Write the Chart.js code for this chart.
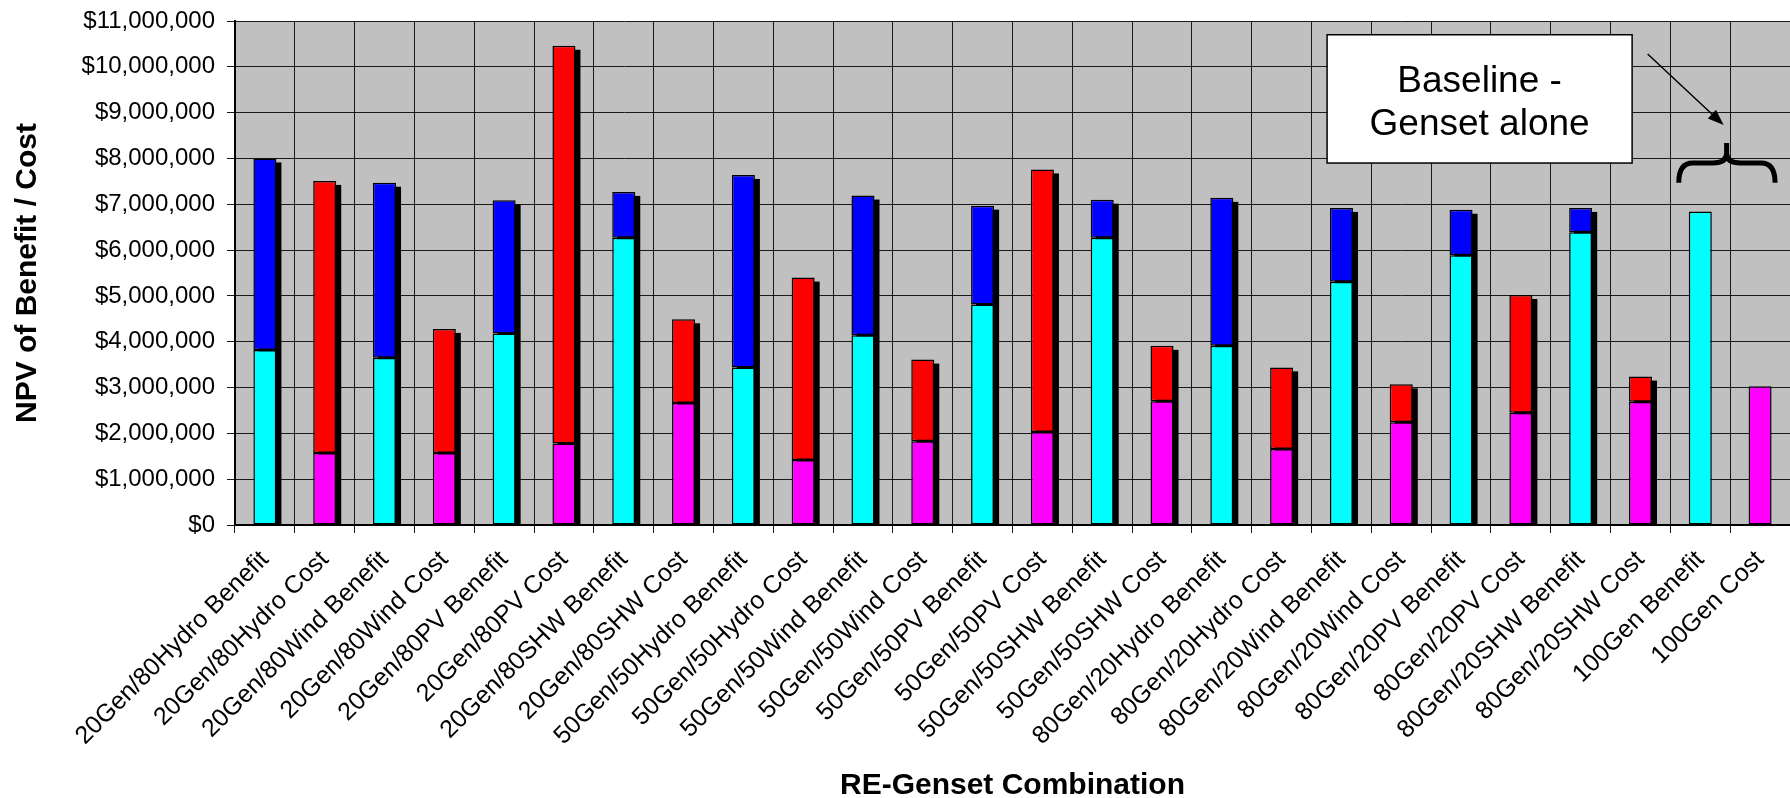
<!DOCTYPE html>
<html>
<head>
<meta charset="utf-8">
<script src="https://cdn.jsdelivr.net/npm/chart.js@4.4.1/dist/chart.umd.min.js"></script>
<style>
html,body{margin:0;padding:0;background:#fff;}
#wrap{width:1790px;height:798px;}
</style>
</head>
<body>
<div id="wrap"><canvas id="c" width="1790" height="798"></canvas></div>
<script>
// ---- data ----
const categories = [
  "20Gen/80Hydro Benefit","20Gen/80Hydro Cost","20Gen/80Wind Benefit","20Gen/80Wind Cost",
  "20Gen/80PV Benefit","20Gen/80PV Cost","20Gen/80SHW Benefit","20Gen/80SHW Cost",
  "50Gen/50Hydro Benefit","50Gen/50Hydro Cost","50Gen/50Wind Benefit","50Gen/50Wind Cost",
  "50Gen/50PV Benefit","50Gen/50PV Cost","50Gen/50SHW Benefit","50Gen/50SHW Cost",
  "80Gen/20Hydro Benefit","80Gen/20Hydro Cost","80Gen/20Wind Benefit","80Gen/20Wind Cost",
  "80Gen/20PV Benefit","80Gen/20PV Cost","80Gen/20SHW Benefit","80Gen/20SHW Cost",
  "100Gen Benefit","100Gen Cost"
];
// cyan (lower part of benefit bars)
const benefitBase = [3820000,null,3650000,null,4180000,null,6270000,null,
                     3440000,null,4140000,null,4810000,null,6270000,null,
                     3910000,null,5310000,null,5890000,null,6390000,null,
                     6840000,null];
// blue (upper part of benefit bars)
const benefitAdded = [4180000,null,3820000,null,2910000,null,1000000,null,
                      4200000,null,3050000,null,2160000,null,830000,null,
                      3230000,null,1610000,null,990000,null,530000,null,
                      null,null];
// magenta (lower part of cost bars)
const costBase = [null,1570000,null,1570000,null,1780000,null,2660000,
                  null,1420000,null,1830000,null,2030000,null,2700000,
                  null,1660000,null,2240000,null,2450000,null,2690000,
                  null,3030000];
// red (upper part of cost bars)
const costAdded = [null,5940000,null,2710000,null,8680000,null,1830000,
                   null,3980000,null,1780000,null,5730000,null,1210000,
                   null,1780000,null,830000,null,2570000,null,550000,
                   null,null];
const yMin = 0, yMax = 11000000, yStep = 1000000;
const yTitle = "NPV of Benefit / Cost";
const xTitle = "RE-Genset Combination";
const noteLines = ["Baseline -", "Genset alone"];

const FONT = "'Liberation Sans', Arial, Helvetica, sans-serif";

const bgPlugin = {
  id: 'bg',
  beforeDraw(chart) {
    const {ctx, chartArea: a} = chart;
    ctx.save();
    ctx.fillStyle = '#ffffff';
    ctx.fillRect(0, 0, chart.width, chart.height);
    ctx.fillStyle = '#C0C0C0';
    ctx.fillRect(a.left, a.top, a.right - a.left, a.bottom - a.top);
    ctx.restore();
  }
};

const shadowPlugin = {
  id: 'shadow',
  beforeDatasetsDraw(chart) {
    const {ctx, chartArea: a} = chart;
    ctx.save();
    ctx.beginPath();
    ctx.rect(a.left, a.top, a.right - a.left, a.bottom - a.top);
    ctx.clip();
    ctx.fillStyle = '#000';
    const pairs = [[0, 1], [2, 3]];
    for (let i = 0; i < categories.length; i++) {
      for (const [b, t] of pairs) {
        const bv = chart.data.datasets[b].data[i];
        const tv = chart.data.datasets[t].data[i];
        if (bv != null && tv != null && tv > 0) {
          const be = chart.getDatasetMeta(b).data[i];
          const te = chart.getDatasetMeta(t).data[i];
          const w = be.width;
          ctx.fillRect(be.x - w / 2 + 5, te.y + 4, w, be.base - te.y - 4);
        }
      }
    }
    ctx.restore();
  }
};

const notePlugin = {
  id: 'note',
  afterDatasetsDraw(chart) {
    const {ctx} = chart;
    const x = chart.scales.x, y = chart.scales.y;
    ctx.save();
    // box
    const bl = x.getPixelForValue(17.76), br = x.getPixelForValue(22.86);
    const bt = y.getPixelForValue(10700000), bb = y.getPixelForValue(7900000);
    ctx.fillStyle = '#fff';
    ctx.fillRect(bl, bt, br - bl, bb - bt);
    ctx.lineWidth = 1.5;
    ctx.strokeStyle = '#000';
    ctx.strokeRect(bl, bt, br - bl, bb - bt);
    ctx.fillStyle = '#000';
    ctx.font = "37px " + FONT;
    ctx.textAlign = 'center';
    ctx.textBaseline = 'alphabetic';
    const cx = (bl + br) / 2, h = bb - bt;
    ctx.fillText(noteLines[0], cx, bt + h * 0.445);
    ctx.fillText(noteLines[1], cx, bt + h * 0.785);
    // arrow
    const ax0 = x.getPixelForValue(23.12), ay0 = y.getPixelForValue(10280000);
    const ax1 = x.getPixelForValue(24.39), ay1 = y.getPixelForValue(8730000);
    const ang = Math.atan2(ay1 - ay0, ax1 - ax0);
    const hl = 16, hw = 6;
    ctx.lineWidth = 1.5;
    ctx.beginPath();
    ctx.moveTo(ax0, ay0);
    ctx.lineTo(ax1 - Math.cos(ang) * hl * 0.8, ay1 - Math.sin(ang) * hl * 0.8);
    ctx.stroke();
    ctx.beginPath();
    ctx.moveTo(ax1, ay1);
    ctx.lineTo(ax1 - Math.cos(ang) * hl + Math.sin(ang) * hw, ay1 - Math.sin(ang) * hl - Math.cos(ang) * hw);
    ctx.lineTo(ax1 - Math.cos(ang) * hl - Math.sin(ang) * hw, ay1 - Math.sin(ang) * hl + Math.cos(ang) * hw);
    ctx.closePath();
    ctx.fill();
    // brace
    const x0 = x.getPixelForValue(23.64), x2 = x.getPixelForValue(25.25);
    const xc = x.getPixelForValue(24.44);
    const yb = y.getPixelForValue(7470000), ym = y.getPixelForValue(7900000), yt = y.getPixelForValue(8340000);
    const r = 14;
    ctx.lineWidth = 5;
    ctx.lineCap = 'butt';
    ctx.lineJoin = 'round';
    ctx.beginPath();
    ctx.moveTo(x0, yb);
    ctx.quadraticCurveTo(x0, ym, x0 + r, ym);
    ctx.lineTo(xc - r, ym);
    ctx.quadraticCurveTo(xc, ym, xc, ym - r * 0.7);
    ctx.lineTo(xc, yt);
    ctx.moveTo(xc, ym - r * 0.7);
    ctx.quadraticCurveTo(xc, ym, xc + r, ym);
    ctx.lineTo(x2 - r, ym);
    ctx.quadraticCurveTo(x2, ym, x2, yb);
    ctx.stroke();
    ctx.restore();
  }
};

const titlePlugin = {
  id: 'titles',
  afterDraw(chart) {
    const {ctx, chartArea: a} = chart;
    ctx.save();
    ctx.fillStyle = '#000';
    ctx.font = "bold 30px " + FONT;
    ctx.textAlign = 'center';
    ctx.textBaseline = 'alphabetic';
    ctx.fillText(xTitle, (a.left + a.right) / 2, 794);
    ctx.translate(36, (a.top + a.bottom) / 2);
    ctx.rotate(-Math.PI / 2);
    ctx.fillText(yTitle, 0, 0);
    ctx.restore();
  }
};

const common = {borderColor: '#000', borderWidth: 1.5, borderSkipped: false, stack: 's'};

new Chart(document.getElementById('c'), {
  type: 'bar',
  data: {
    labels: categories,
    datasets: [
      Object.assign({label: 'Benefit (base)', data: benefitBase, backgroundColor: '#00FFFF'}, common),
      Object.assign({label: 'Benefit (added)', data: benefitAdded, backgroundColor: '#0000FF'}, common),
      Object.assign({label: 'Cost (base)', data: costBase, backgroundColor: '#FF00FF'}, common),
      Object.assign({label: 'Cost (added)', data: costAdded, backgroundColor: '#FF0000'}, common)
    ]
  },
  options: {
    responsive: false,
    animation: false,
    devicePixelRatio: 1,
    layout: {padding: {left: 0, right: 0, top: 21, bottom: 0}},
    datasets: {bar: {categoryPercentage: 1.0, barPercentage: 0.385}},
    plugins: {legend: {display: false}, tooltip: {enabled: false}},
    scales: {
      x: {
        stacked: true,
        grid: {offset: true, color: '#1a1a1a', lineWidth: 1, tickLength: 8, drawTicks: true},
        border: {color: '#000', width: 2},
        ticks: {
          autoSkip: false, minRotation: 45, maxRotation: 45, padding: 12,
          color: '#000', font: {family: FONT, size: 25}
        },
        afterFit(scale) { scale.height = 273; scale.paddingLeft = 0; scale.paddingRight = 0; }
      },
      y: {
        stacked: true,
        min: yMin, max: yMax,
        grid: {color: '#1a1a1a', lineWidth: 1, tickLength: 8},
        border: {color: '#000', width: 2},
        ticks: {
          stepSize: yStep, padding: 12, color: '#000',
          font: {family: FONT, size: 24},
          callback: v => '$' + Number(v).toLocaleString('en-US')
        },
        afterFit(scale) { scale.width = 235; scale.paddingTop = 0; scale.paddingBottom = 0; }
      }
    }
  },
  plugins: [bgPlugin, shadowPlugin, notePlugin, titlePlugin]
});
</script>
</body>
</html>
